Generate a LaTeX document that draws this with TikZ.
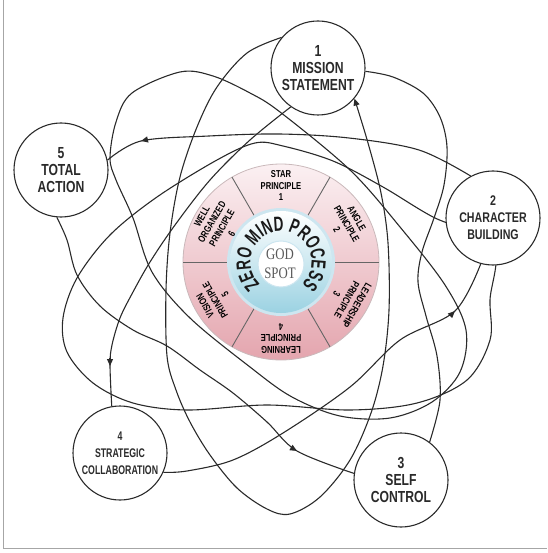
\documentclass[tikz,border=0pt]{standalone}
\usepackage{fontspec}
\setmainfont{Liberation Sans}
\newfontfamily\nodefont{Liberation Sans}[FakeStretch=0.76]
\newfontfamily\collabfont{Liberation Sans}[FakeStretch=0.7]
\newfontfamily\zmpfont{Liberation Sans}[FakeStretch=0.66]
\newfontfamily\godfont{Liberation Serif}[FakeStretch=0.8]
\usetikzlibrary{decorations.text,arrows.meta}
\pgfdeclarelayer{bg}
\pgfsetlayers{bg,main}
\definecolor{ink}{HTML}{2A2A2A}
\definecolor{pinktop}{RGB}{251,240,242}
\definecolor{pinkbot}{RGB}{228,165,174}
\definecolor{bluebot}{RGB}{155,210,226}
\definecolor{bluering}{RGB}{205,230,240}
\tikzset{
  stepnode/.style={circle, draw=ink, line width=1.1pt, fill=white, minimum size=94pt,
    inner sep=0pt, align=center, text=ink},
  bigtxt/.style={font=\nodefont\bfseries\fontsize{16}{17}\selectfont},
  midtxt/.style={font=\nodefont\bfseries\fontsize{14}{17}\selectfont},
  smalltxt/.style={font=\collabfont\bfseries\fontsize{12.5}{17}\selectfont},
  orbit/.style={draw=ink, line width=1.1pt},
  tipped/.style={orbit, -{Triangle[length=7pt,width=6pt]}},
  arrowmark/.style={ink, line width=1.1pt, -{Triangle[length=7pt,width=6pt]}},
  secttxt/.style={align=center, text=black, font=\nodefont\bfseries\fontsize{10}{11.5}\selectfont},
  divider/.style={draw=black!60, line width=0.9pt}
}
\begin{document}
\begin{tikzpicture}[x=1pt,y=-1pt]
\useasboundingbox (0,0) rectangle (547,553);
\draw[black!35, line width=0.8pt] (3.5,0) -- (3.5,548.5) -- (547,548.5);

% nodes
\node[stepnode,bigtxt] (n1) at (318,68) {1\\MISSION\\STATEMENT};
\node[stepnode,midtxt] (n2) at (493,218) {2\\CHARACTER\\BUILDING};
\node[stepnode,bigtxt] (n3) at (401,480) {3\\SELF\\CONTROL};
\node[stepnode,smalltxt] (n4) at (120,453) {4\\STRATEGIC\\COLLABORATION};
\node[stepnode,bigtxt] (n5) at (61,170) {5\\TOTAL\\ACTION};

\begin{pgfonlayer}{bg}
% orbit through node 1 (arrow back into node 1)
\draw[tipped] plot[smooth, tension=0.55] coordinates {(n1.140) (247,53) (217,87) (197,127) (180,177) (170,233) (166,290) (167,356) (176,390) (190,422) (210,455) (237,488) (267,509) (290,514) (320,497) (350,460) (371,413) (383,366) (389,310) (388,243) (381,193) (368,143) (n1.-40)};
% orbit through node 2
\draw[orbit] plot[smooth cycle, tension=0.55] coordinates {(493,245) (433,217) (383,187) (333,161) (283,146) (255,143) (217,160) (157,197) (110,235) (77,278) (63,318) (67,352) (93,383) (133,403) (187,410) (267,405) (350,410) (417,403) (467,380) (490,340) (490,300)};
% orbit through node 5
\draw[orbit] plot[smooth cycle, tension=0.55] coordinates {(110,158) (116,122) (132,93) (180,72) (213,76) (250,93) (280,112) (350,170) (400,227) (445,285) (466,330) (460,372) (432,402) (390,418) (340,416) (292,397) (250,367) (190,318) (152,272) (133,218) (116,180)};
% 2 -> 5
\draw[orbit] plot[smooth, tension=0.55] coordinates {(n2.118) (419,150) (349,138) (279,134) (209,136) (141,141) (n5.12)};
% 4 -> 2
\draw[orbit] plot[smooth, tension=0.55] coordinates {(n4.-24) (187,471) (233,460) (283,433) (350,387) (400,340) (455,311) (n2.-105)};
% 5 -> 3
\draw[orbit] plot[smooth, tension=0.55] coordinates {(n5.-95) (67,240) (77,275) (100,306) (133,330) (167,346) (200,370) (233,393) (267,422) (297,451) (n3.172)};
% 1 -> 4
\draw[orbit] plot[smooth, tension=0.55] coordinates {(n1.-125) (250,140) (210,180) (175,225) (150,262) (133,292) (120,318) (112,345) (110,365) (n4.100)};
% 3 -> 1
\draw[orbit] plot[smooth, tension=0.55] coordinates {(n3.53) (440,400) (437,356) (426,316) (418,282) (422,252) (434,218) (444,185) (447,147) (440,117) (423,93) (393,77) (n1.-4)};
\end{pgfonlayer}

% arrow marks on the connectors
\draw[arrowmark] (148,139.4) -- (141,141);
\draw[arrowmark] (110,358) -- (110,366);
\draw[arrowmark] (450,315.8) -- (455,311);
\draw[arrowmark] (291,447.5) -- (297,451);

% wheel
\begin{scope}[shift={(281,262)}, y=1pt]
  \shade[top color=pinktop, bottom color=pinkbot] (0,0) circle[radius=98];
  \draw[draw=pinkbot!60!black!45, line width=0.8pt] (0,0) circle[radius=98];
  \foreach \a in {0,60,...,300} \draw[divider] (\a:53) -- (\a:98);
  \fill[bluering] (0,0) circle[radius=54];
  \shade[top color=white, bottom color=bluebot] (0,0) circle[radius=51];
  \fill[white] (0,-2) circle[radius=23];
  \draw[bluering, line width=1pt] (0,-2) circle[radius=23];
  \node[secttxt] (s1) at (90:76) {STAR\\PRINCIPLE\\1};
  \node[secttxt, rotate=-60] (s2) at (30:76) {ANGLE\\PRINCIPLE\\2};
  \node[secttxt, rotate=-120] (s3) at (-30:76) {LEADERSHIP\\PRINCIPLE\\3};
  \node[secttxt, rotate=180] (s4) at (-90:76) {LEARNING\\PRINCIPLE\\4};
  \node[secttxt, rotate=120] (s5) at (210:76) {VISION\\PRINCIPLE\\5};
  \node[secttxt, rotate=60] (s6) at (150:74) {WELL\\ORGANIZED\\PRINCIPLE\\6};
  \path[decorate, decoration={text along path, text align=center,
     text={|\zmpfont\bfseries\fontsize{20.5}{20.5}\selectfont\color{black!90}|ZERO MIND PROCESS}}]
     (230:30.5) arc[start angle=230, end angle=-50, radius=30.5];
  \node[text=black!65, font=\godfont\fontsize{16}{19}\selectfont, align=center] (god) at (-1,-2) {GOD\\SPOT};
\end{scope}
\end{tikzpicture}
\end{document}
